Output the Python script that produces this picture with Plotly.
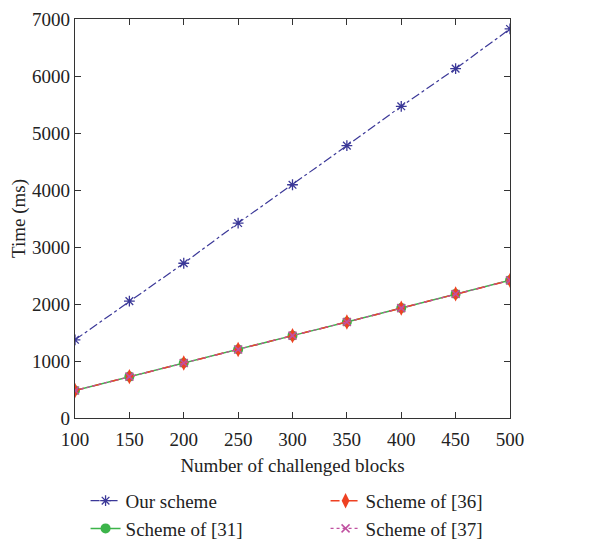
import plotly.graph_objects as go

blocks = [100, 150, 200, 250, 300, 350, 400, 450, 500]
our_scheme = [1372, 2050, 2715, 3420, 4092, 4778, 5468, 6129, 6826]
scheme_31 = [482, 726, 964, 1202, 1445, 1684, 1928, 2177, 2415]
scheme_36 = [482, 726, 964, 1202, 1445, 1684, 1928, 2177, 2415]
scheme_37 = [482, 726, 964, 1202, 1445, 1684, 1928, 2177, 2415]

x_ticks = [100, 150, 200, 250, 300, 350, 400, 450, 500]
y_ticks = [0, 1000, 2000, 3000, 4000, 5000, 6000, 7000]

FONT = "Liberation Serif"
FS = 19
fig = go.Figure()
fig.add_trace(go.Scatter(x=blocks, y=our_scheme, name="Our scheme", mode="lines+markers",
                         line=dict(color="#3b3898", width=1.2, dash="dashdot"),
                         marker=dict(symbol="asterisk", size=9, line=dict(color="#3b3898", width=1.3)),
                         legendrank=1))
fig.add_trace(go.Scatter(x=blocks, y=scheme_31, name="Scheme of [31]", mode="lines+markers",
                         line=dict(color="#3cb44a", width=1.5),
                         marker=dict(symbol="circle", size=10, color="#3cb44a"),
                         legendrank=3))
fig.add_trace(go.Scatter(x=blocks, y=scheme_36, name="Scheme of [36]", mode="lines+markers",
                         line=dict(color="#ee4122", width=1.5, dash="dash"),
                         marker=dict(symbol="diamond-tall", size=11, color="#ee4122"),
                         legendrank=2))
fig.add_trace(go.Scatter(x=blocks, y=scheme_37, name="Scheme of [37]", mode="lines+markers",
                         line=dict(color="#c050a0", width=1.2, dash="dot"),
                         marker=dict(symbol="x-thin", size=8, line=dict(color="#c050a0", width=1.5)),
                         legendrank=4))

axis_common = dict(showline=True, linecolor="#333333", linewidth=1.3, mirror="ticks",
                   ticks="inside", ticklen=6, tickcolor="#333333", showgrid=False, zeroline=False,
                   automargin=False,
                   tickfont=dict(family=FONT, size=FS, color="#222222"))
fig.update_layout(
    width=605, height=534,
    margin=dict(l=67, r=103, t=11, b=124, autoexpand=False),
    plot_bgcolor="white", paper_bgcolor="white",
    font=dict(family=FONT, size=FS, color="#222222"),
    xaxis=dict(range=[100, 500], tickvals=x_ticks, ticklabelstandoff=4,
               title=dict(text="Number of challenged blocks", font=dict(family=FONT, size=FS), standoff=9),
               **axis_common),
    yaxis=dict(range=[0, 7000], tickvals=y_ticks,
               title=dict(text="Time (ms)", font=dict(family=FONT, size=FS), standoff=6),
               **axis_common),
    legend=dict(orientation="h", x=-0.001, xanchor="left", y=-0.160, yanchor="top",
                entrywidth=184, entrywidthmode="pixels", tracegroupgap=0, indentation=11,
                font=dict(family=FONT, size=FS), bgcolor="rgba(0,0,0,0)"),
)
fig.write_html("out.html")
